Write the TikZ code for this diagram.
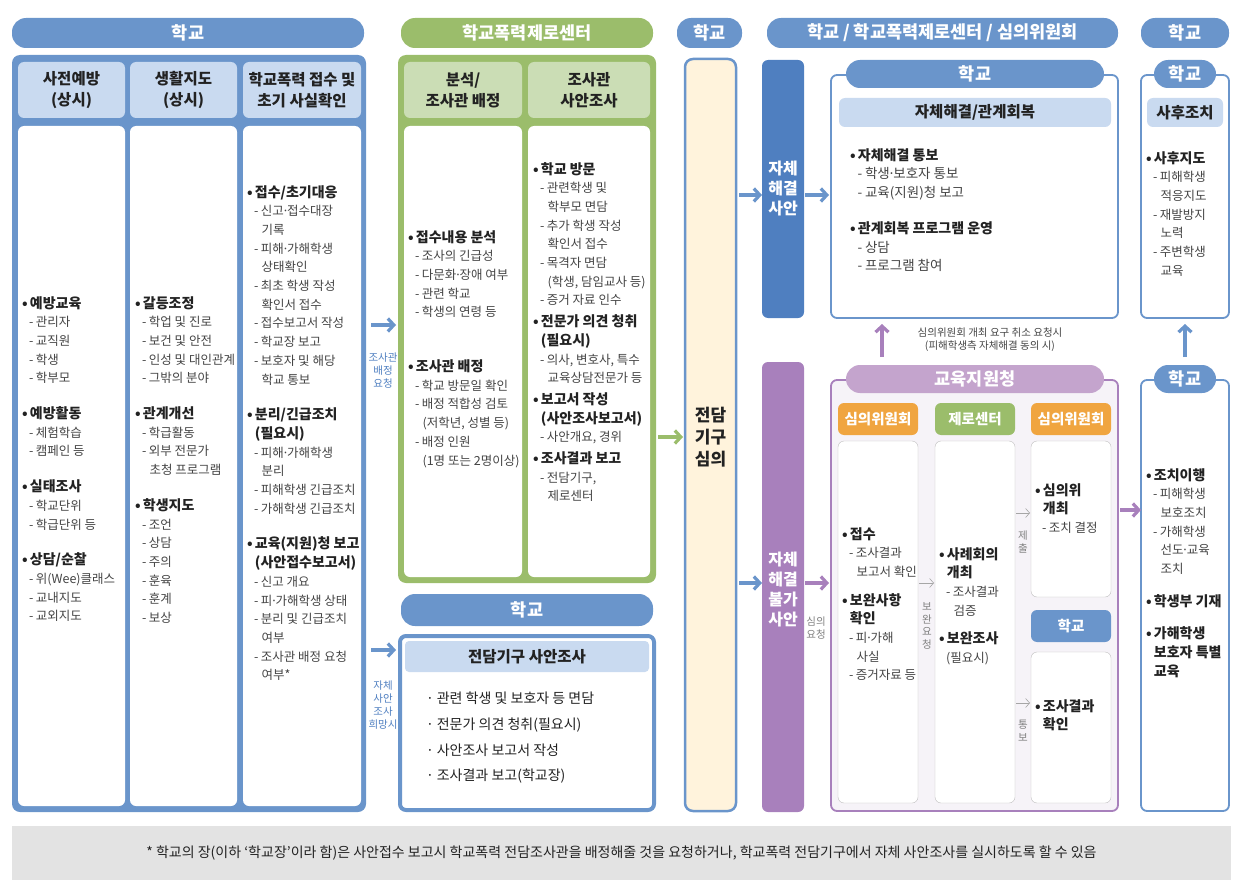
\documentclass[tikz,border=0pt]{standalone}
\usepackage{fontspec}
\setmainfont{Noto Sans CJK KR}
\usetikzlibrary{arrows.meta}
\definecolor{bl}{HTML}{6A95CB}
\definecolor{lb}{HTML}{C9DAF0}
\definecolor{gr}{HTML}{9BBD6B}
\definecolor{lg}{HTML}{CBDDB5}
\definecolor{db}{HTML}{4F7FC0}
\definecolor{pu}{HTML}{A880BC}
\definecolor{lp}{HTML}{C4A4CD}
\definecolor{pf}{HTML}{F6F3F8}
\definecolor{ora}{HTML}{F0A540}
\definecolor{cr}{HTML}{FFF3DC}
\definecolor{tx}{HTML}{222222}
\definecolor{st}{HTML}{444444}
\newcommand\md{\kern-0.15em·\kern-0.15em}
\newcommand\TT[1]{{\fontsize{14}{18.5}\selectfont\bfseries •\kern0.15em#1}}
\newcommand\TC[1]{{\fontsize{14}{18.5}\selectfont\bfseries\hspace*{0.55em}#1}}
\newcommand\SI[1]{{\color{st}\hspace*{0.55em}-\kern0.2em#1}}
\newcommand\SC[1]{{\color{st}\hspace*{1.15em}#1}}
\begin{document}
\begin{tikzpicture}[x=1pt,y=-1pt,
  pill/.style={rounded corners=14pt,fill=#1,text=white,font=\fontsize{17.5}{19}\selectfont\bfseries},
  cell/.style={rounded corners=6pt,fill=#1},
  hdr/.style={font=\fontsize{15.5}{21}\selectfont\bfseries,text=tx,align=center},
  body/.style={anchor=north west,align=left,text=tx,font=\fontsize{12.5}{18.7}\selectfont,inner sep=0pt},
  arr/.style={line width=3.2pt,draw=#1,-{Straight Barb[length=6pt,width=13pt,line width=3.2pt]}},
  thin/.style={draw=gray!70,line width=0.6pt,-{Straight Barb[length=4pt,width=9pt]}},
  lab/.style={font=\fontsize{10.5}{13}\selectfont,align=center,text=#1},
  vlab/.style={font=\fontsize{10.5}{12.5}\selectfont,align=center,text=gray}]
\useasboundingbox (0,0) rectangle (1243,888);
% top pills
\node[pill=bl,minimum width=352pt,minimum height=30pt] (p1) at (188,33) {학교};
\node[pill=gr,minimum width=252pt,minimum height=30pt] (p2) at (527,33) {학교폭력제로센터};
\node[pill=bl,minimum width=65pt,minimum height=30pt] (p3) at (709.5,33) {학교};
\node[pill=bl,minimum width=351pt,minimum height=30pt] (p4) at (942.5,33) {학교 / 학교폭력제로센터 / 심의위원회};
\node[pill=bl,minimum width=88pt,minimum height=30pt] (p5) at (1185,33) {학교};
% left big box
\fill[bl,rounded corners=8pt] (12,55) rectangle (366,812);
\foreach \a/\b/\n in {18/125/a,130/237/b,243/361/c}{
  \fill[lb,rounded corners=6pt] (\a,62) rectangle (\b,118);
  \fill[white,rounded corners=6pt] (\a,126) rectangle (\b,806);}
\node[hdr] (h1) at (71.5,90) {사전예방\\(상시)};
\node[hdr] (h2) at (183.5,90) {생활지도\\(상시)};
\node[hdr] (h3) at (302,90) {학교폭력 접수 및\\초기 사실확인};
\node[body] (c1) at (22,296) {\TT{예방교육}\\\SI{관리자}\\\SI{교직원}\\\SI{학생}\\\SI{학부모}\\[17pt]
\TT{예방활동}\\\SI{체험학습}\\\SI{캠페인 등}\\[17pt]
\TT{실태조사}\\\SI{학교단위}\\\SI{학급단위 등}\\[17pt]
\TT{상담/순찰}\\\SI{위(Wee)클래스}\\\SI{교내지도}\\\SI{교외지도}};
\node[body] (c2) at (135,296) {\TT{갈등조정}\\\SI{학업 및 진로}\\\SI{보건 및 안전}\\\SI{인성 및 대인관계}\\\SI{그밖의 분야}\\[17pt]
\TT{관계개선}\\\SI{학급활동}\\\SI{외부 전문가}\\\SC{초청 프로그램}\\[17pt]
\TT{학생지도}\\\SI{조언}\\\SI{상담}\\\SI{주의}\\\SI{훈육}\\\SI{훈계}\\\SI{보상}};
\node[body] (c3) at (247,185) {\TT{접수/초기대응}\\\SI{신고\md 접수대장}\\\SC{기록}\\\SI{피해\md 가해학생}\\\SC{상태확인}\\\SI{최초 학생 작성}\\\SC{확인서 접수}\\\SI{접수보고서 작성}\\\SI{학교장 보고}\\\SI{보호자 및 해당}\\\SC{학교 통보}\\[17pt]
\TT{분리/긴급조치}\\\TC{(필요시)}\\\SI{피해\md 가해학생}\\\SC{분리}\\\SI{피해학생 긴급조치}\\\SI{가해학생 긴급조치}\\[17pt]
\TT{교육(지원)청 보고}\\\TC{(사안접수보고서)}\\\SI{신고 개요}\\\SI{피\md 가해학생 상태}\\\SI{분리 및 긴급조치}\\\SC{여부}\\\SI{조사관 배정 요청}\\\SC{여부*}};
% arrows left -> green
\coordinate (a1s) at (371,325); \coordinate (a1e) at (396,325);
\draw[arr=bl] (a1s) -- (a1e);
\node[lab=db] (l1) at (383,371) {조사관\\배정\\요청};
\coordinate (a2s) at (371,650); \coordinate (a2e) at (396,650);
\draw[arr=bl] (a2s) -- (a2e);
\node[lab=db] (l2) at (383,705) {자체\\사안\\조사\\희망시};
% green box
\fill[gr,rounded corners=8pt] (398,55) rectangle (656,583);
\foreach \a/\b in {404/522,528/650}{
  \fill[lg,rounded corners=6pt] (\a,62) rectangle (\b,118);
  \fill[white,rounded corners=6pt] (\a,126) rectangle (\b,577);}
\node[hdr] (h4) at (463,90) {분석/\\조사관 배정};
\node[hdr] (h5) at (589,90) {조사관\\사안조사};
\node[body] (g1) at (408,230) {\TT{접수내용 분석}\\\SI{조사의 긴급성}\\\SI{다문화\md 장애 여부}\\\SI{관련 학교}\\\SI{학생의 연령 등}\\[36pt]
\TT{조사관 배정}\\\SI{학교 방문일 확인}\\\SI{배정 적합성 검토}\\\SC{(저학년, 성별 등)}\\\SI{배정 인원}\\\SC{(1명 또는 2명이상)}};
\node[body] (g2) at (533,162) {\TT{학교 방문}\\\SI{관련학생 및}\\\SC{학부모 면담}\\\SI{추가 학생 작성}\\\SC{확인서 접수}\\\SI{목격자 면담}\\\SC{(학생, 담임교사 등)}\\\SI{증거 자료 인수}\\[3pt]
\TT{전문가 의견 청취}\\\TC{(필요시)}\\\SI{의사, 변호사, 특수}\\\SC{교육상담전문가 등}\\[3pt]
\TT{보고서 작성}\\\TC{(사안조사보고서)}\\\SI{사안개요, 경위}\\[3pt]
\TT{조사결과 보고}\\\SI{전담기구,}\\\SC{제로센터}};
% school investigation box
\node[pill=bl,minimum width=252pt,minimum height=32pt] (p6) at (527,610) {학교};
\draw[bl,line width=4pt,fill=white,rounded corners=6pt] (400,636) rectangle (654,810);
\fill[lb,rounded corners=4pt] (405,641) rectangle (649,672);
\node[hdr] (h6) at (527,656.5) {전담기구 사안조사};
\node[body,font=\fontsize{14}{25.7}\selectfont] (s1) at (426,692) {·\kern0.2em관련 학생 및 보호자 등 면담\\·\kern0.2em전문가 의견 청취(필요시)\\·\kern0.2em사안조사 보고서 작성\\·\kern0.2em조사결과 보고(학교장)};
% green arrow
\coordinate (a3s) at (658,437); \coordinate (a3e) at (683,437);
\draw[arr=gr] (a3s) -- (a3e);
% 전담기구 심의
\draw[bl,line width=2.5pt,fill=cr,rounded corners=8pt] (685,59) rectangle (736,811);
\node[hdr,font=\fontsize{17}{22}\selectfont\bfseries] (jd) at (710.5,437) {전담\\기구\\심의};
% arrows to bars
\coordinate (a4s) at (739,195); \coordinate (a4e) at (762,195);
\draw[arr=bl] (a4s) -- (a4e);
\coordinate (a5s) at (739,583); \coordinate (a5e) at (762,583);
\draw[arr=bl] (a5s) -- (a5e);
\fill[db,rounded corners=6pt] (762,60) rectangle (804,318);
\node[hdr,text=white,font=\fontsize{16}{20}\selectfont\bfseries] (b1) at (783,189) {자체\\해결\\사안};
\fill[pu,rounded corners=6pt] (762,362) rectangle (804,812);
\node[hdr,text=white,font=\fontsize{16}{20}\selectfont\bfseries] (b2) at (783,590) {자체\\해결\\불가\\사안};
\coordinate (a6s) at (805,195); \coordinate (a6e) at (829,195);
\draw[arr=bl] (a6s) -- (a6e);
\coordinate (a7s) at (805,583); \coordinate (a7e) at (829,583);
\draw[arr=pu] (a7s) -- (a7e);
\node[lab=gray] (l3) at (816,628) {심의\\요청};
% upper box
\draw[bl,line width=1.8pt,fill=white,rounded corners=6pt] (831,75) rectangle (1118,318);
\node[pill=bl,minimum width=258pt,minimum height=28pt] (p7) at (975,74) {학교};
\fill[lb,rounded corners=6pt] (839,98) rectangle (1111,127);
\node[hdr] (h7) at (975,112.5) {자체해결/관계회복};
\node[body,font=\fontsize{13.5}{18.5}\selectfont] (u1) at (850,148) {\TT{자체해결 통보}\\\SI{학생\md 보호자 통보}\\\SI{교육(지원)청 보고}\\[18pt]
\TT{관계회복 프로그램 운영}\\\SI{상담}\\\SI{프로그램 참여}};
% up purple arrow
\coordinate (a8s) at (882,357); \coordinate (a8e) at (882,324);
\draw[arr=pu] (a8s) -- (a8e);
\node[lab=st] (l4) at (990,340) {심의위원회 개최 요구 취소 요청시\\(피해학생측 자체해결 동의 시)};
% lower box
\draw[pu,line width=1.8pt,fill=pf,rounded corners=6pt] (831,380) rectangle (1118,811);
\node[pill=lp,minimum width=258pt,minimum height=28pt] (p8) at (975,379) {교육지원청};
\tikzset{sub/.style={cell=#1,minimum width=80pt,minimum height=32pt,text=white,font=\fontsize{14.5}{16}\selectfont\bfseries}}
\node[sub=ora] (o1) at (878,419) {심의위원회};
\node[sub=gr] (o2) at (975,419) {제로센터};
\node[sub=ora] (o3) at (1071,419) {심의위원회};
\node[sub=bl] (o4) at (1071,626) {학교};
\foreach \a/\b/\c in {838/918/803,935/1015/803}{
  \draw[gray!50,fill=white,rounded corners=6pt] (\a,441) rectangle (\b,\c);}
\draw[gray!50,fill=white,rounded corners=6pt] (1031,441) rectangle (1111,597);
\draw[gray!50,fill=white,rounded corners=6pt] (1031,652) rectangle (1111,803);
\node[body] (k1) at (842,527) {\TT{접수}\\\SI{조사결과}\\\SC{보고서 확인}\\[10pt]
\TT{보완사항}\\\TC{확인}\\\SI{피\md 가해}\\\SC{사실}\\\SI{증거자료 등}};
\node[body] (k2) at (939,547) {\TT{사례회의}\\\TC{개최}\\\SI{조사결과}\\\SC{검증}\\[10pt]
\TT{보완조사}\\{\color{st}\hspace*{0.55em}(필요시)}};
\node[body] (k3) at (1035,483) {\TT{심의위}\\\TC{개최}\\\SI{조치 결정}};
\node[body] (k4) at (1035,699) {\TT{조사결과}\\\TC{확인}};
\coordinate (t1s) at (919,583); \coordinate (t1e) at (934,583);
\draw[thin] (t1s) -- (t1e);
\node[vlab] (v1) at (927,626) {보\\완\\요\\청};
\coordinate (t2s) at (1016,513); \coordinate (t2e) at (1030,513);
\draw[thin] (t2s) -- (t2e);
\node[vlab] (v2) at (1023,542) {제\\출};
\coordinate (t3s) at (1016,703); \coordinate (t3e) at (1030,703);
\draw[thin] (t3s) -- (t3e);
\node[vlab] (v3) at (1023,731) {통\\보};
% right column
\draw[bl,line width=1.8pt,fill=white,rounded corners=6pt] (1141,75) rectangle (1229,318);
\node[pill=bl,minimum width=62pt,minimum height=28pt] (p9) at (1185,74) {학교};
\fill[lb,rounded corners=6pt] (1147,98) rectangle (1223,127);
\node[hdr] (h8) at (1185,112.5) {사후조치};
\node[body] (r1) at (1146,151) {\TT{사후지도}\\\SI{피해학생}\\\SC{적응지도}\\\SI{재발방지}\\\SC{노력}\\\SI{주변학생}\\\SC{교육}};
\coordinate (a9s) at (1185,357); \coordinate (a9e) at (1185,324);
\draw[arr=bl] (a9s) -- (a9e);
\draw[bl,line width=1.8pt,fill=white,rounded corners=6pt] (1141,380) rectangle (1229,811);
\node[pill=bl,minimum width=62pt,minimum height=28pt] (p10) at (1185,379) {학교};
\node[body] (r2) at (1146,468) {\TT{조치이행}\\\SI{피해학생}\\\SC{보호조치}\\\SI{가해학생}\\\SC{선도\md 교육}\\\SC{조치}\\[14pt]
\TT{학생부 기재}\\[14pt]
\TT{가해학생}\\\TC{보호자 특별}\\\TC{교육}};
\coordinate (a10s) at (1120,510); \coordinate (a10e) at (1141,510);
\draw[arr=pu] (a10s) -- (a10e);
% footer
\fill[gray!22] (12,826) rectangle (1231,880);
\node[font=\fontsize{14}{16}\selectfont,text=tx] (ft) at (621.5,853) {* 학교의 장(이하 ‘학교장’이라 함)은 사안접수 보고시 학교폭력 전담조사관을 배정해줄 것을 요청하거나, 학교폭력 전담기구에서 자체 사안조사를 실시하도록 할 수 있음};
\end{tikzpicture}
\end{document}
